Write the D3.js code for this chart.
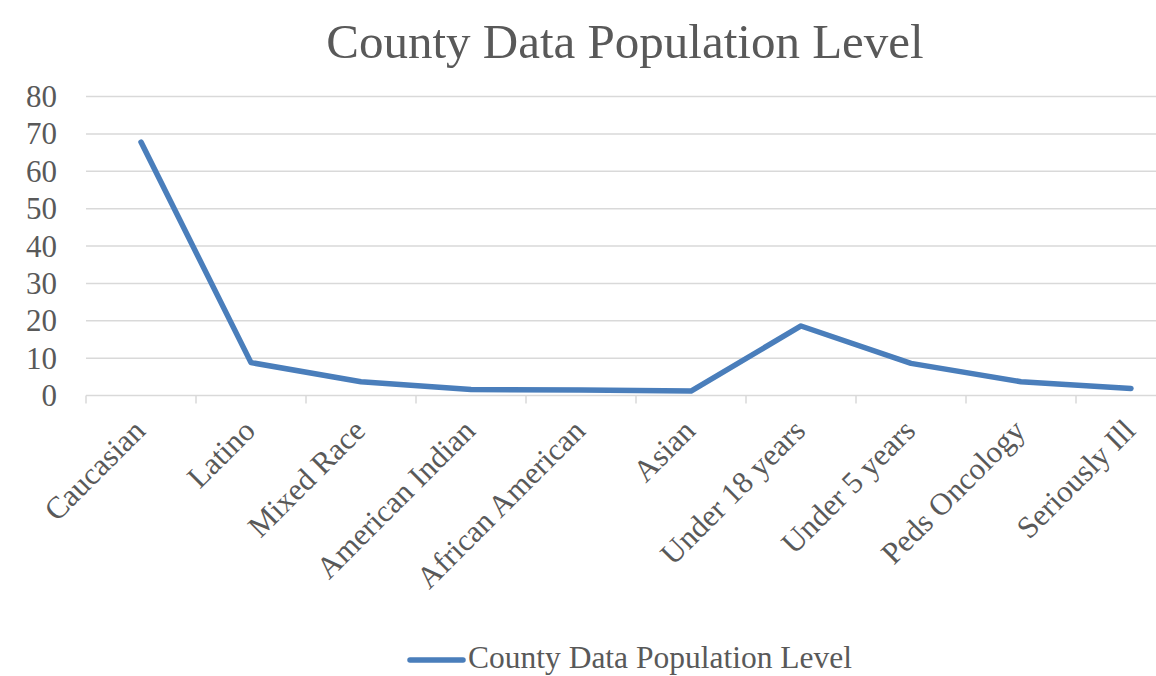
<!DOCTYPE html>
<html><head><meta charset="utf-8">
<script src="https://cdn.jsdelivr.net/npm/d3@7"></script>
<style>body{margin:0;background:#fff}svg{display:block}</style>
</head><body>
<svg id="c" width="1156" height="676"></svg>
<script>
const categories = ["Caucasian","Latino","Mixed Race","American Indian","African American","Asian","Under 18 years","Under 5 years","Peds Oncology","Seriously Ill"];
const values = [67.8, 8.8, 3.7, 1.6, 1.5, 1.2, 18.6, 8.6, 3.7, 1.9];
const yTicks = [0,10,20,30,40,50,60,70,80];
const title = "County Data Population Level";
const seriesName = "County Data Population Level";

const svg = d3.select("#c");
const font = "'Liberation Serif','Times New Roman',serif";
const txt = "#595959";
const pLeft = 86, pRight = 1186, pTop = 96.5, pBottom = 395.5;
const x = d3.scaleBand().domain(categories).range([pLeft, pRight]);
const y = d3.scaleLinear().domain([0, 80]).range([pBottom, pTop]);

svg.append("text").attr("x", 625).attr("y", 58).attr("text-anchor","middle")
  .attr("font-family", font).attr("font-size", 49).attr("fill", txt).text(title);

// gridlines
svg.append("g").selectAll("line").data(yTicks.filter(d=>d>0)).join("line")
  .attr("x1", pLeft).attr("x2", pRight).attr("y1", d=>y(d)).attr("y2", d=>y(d))
  .attr("stroke", "#d9d9d9").attr("stroke-width", 1.5);

// y labels
svg.append("g").selectAll("text").data(yTicks).join("text")
  .attr("x", 57).attr("y", d=>y(d)).attr("dy","0.34em").attr("text-anchor","end")
  .attr("font-family", font).attr("font-size", 31).attr("fill", txt).text(d=>d);

// x axis
const xg = svg.append("g").attr("transform", `translate(0,${pBottom})`);
xg.append("line").attr("x1", pLeft).attr("x2", pRight).attr("stroke","#d9d9d9").attr("stroke-width",1.5);
const bounds = categories.map(c=>x(c)).concat([pRight]);
xg.selectAll("line.tk").data(bounds).join("line").attr("class","tk")
  .attr("x1", d=>d).attr("x2", d=>d).attr("y1",0).attr("y2",8)
  .attr("stroke","#d9d9d9").attr("stroke-width",1.5);
xg.selectAll("text").data(categories).join("text")
  .attr("transform", d=>`translate(${x(d)+x.bandwidth()/2+6},${37}) rotate(-45)`)
  .attr("text-anchor","end")
  .attr("font-family", font).attr("font-size", 31).attr("fill", txt).text(d=>d);

// line
const line = d3.line().x((d,i)=>x(categories[i])+x.bandwidth()/2).y(d=>y(d));
svg.append("path").datum(values).attr("d", line).attr("fill","none")
  .attr("stroke","#4a7ebb").attr("stroke-width",5.5).attr("stroke-linejoin","round").attr("stroke-linecap","round");

// legend
const lg = svg.append("g");
lg.append("line").attr("x1",410).attr("x2",463).attr("y1",660).attr("y2",660)
  .attr("stroke","#4a7ebb").attr("stroke-width",5.5).attr("stroke-linecap","round");
lg.append("text").attr("x",468).attr("y",668).attr("font-family", font)
  .attr("font-size", 31.5).attr("fill", txt).text(seriesName);
</script>
</body></html>
